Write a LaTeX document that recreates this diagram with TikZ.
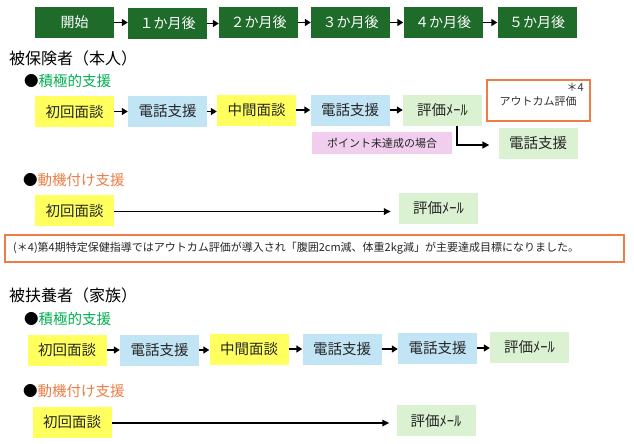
\documentclass[tikz,border=0pt]{standalone}
\usepackage{fontspec}
\setmainfont{Noto Sans CJK JP}
\usetikzlibrary{arrows.meta}
\definecolor{dkgreen}{HTML}{1E6B2A}
\definecolor{myyellow}{HTML}{FFFF5E}
\definecolor{myblue}{HTML}{C2E5F6}
\definecolor{mygreen}{HTML}{DAF1D2}
\definecolor{mypink}{HTML}{F1CDEE}
\definecolor{myorange}{HTML}{EE7D45}
\definecolor{kgreen}{HTML}{00B050}
\begin{document}
\begin{tikzpicture}[x=1pt,y=-1pt,
  cbox/.style={inner sep=0pt, minimum width=79pt, minimum height=31pt,
    font=\fontsize{14.5}{16}\selectfont, text=black!85},
  topbox/.style={cbox, fill=dkgreen, text=white, font=\fontsize{14}{16}\selectfont},
  ybox/.style={cbox, fill=myyellow},
  bbox/.style={cbox, fill=myblue},
  gbox/.style={cbox, fill=mygreen},
  arr/.style={-{Triangle[length=6pt,width=7pt]}, line width=1.8pt},
  longarr/.style={-{Triangle[length=7pt,width=6.5pt]}, line width=1.5pt},
  title/.style={anchor=west, inner sep=0pt, font=\fontsize{16}{18}\selectfont},
  subtitle/.style={anchor=west, inner sep=0pt, font=\fontsize{14.5}{16}\selectfont},
  notebox/.style={draw=myorange, line width=1.2pt, fill=white}
]
\useasboundingbox (0,0) rectangle (634,444);
\fill[white] (0,0) rectangle (634,444);

% top timeline
\node[topbox] (t0) at (74.5,22.5) {開始};
\node[topbox] (t1) at (167.5,23.5) {１か月後};
\node[topbox] (t2) at (258.5,22.5) {２か月後};
\node[topbox] (t3) at (350.5,22.5) {３か月後};
\node[topbox] (t4) at (443,22.5) {４か月後};
\node[topbox] (t5) at (537,22.5) {５か月後};
\foreach \a/\b in {t0/t1,t1/t2,t2/t3,t3/t4,t4/t5}
  \draw[arr] (\a.east) -- (\a.east -| \b.west);

% section 1
\node[title] (h1) at (9,58) {被保険者（本人）};
\node[subtitle] (s1) at (24,81) {●\textcolor{kgreen}{積極的支援}};

\node[ybox] (a1) at (74.5,111.5) {初回面談};
\node[bbox] (a2) at (167.5,111.5) {電話支援};
\node[ybox] (a3) at (256.5,110) {中間面談};
\node[bbox] (a4) at (350,110) {電話支援};
\node[gbox] (a5) at (442.5,110.5) {評価ﾒｰﾙ};
\foreach \a/\b in {a1/a2,a2/a3,a3/a4,a4/a5}
  \draw[arr] (\a.east) -- (\a.east -| \b.west);

\node[notebox, minimum width=103pt, minimum height=41pt, inner sep=0pt] (out) at (538.5,100.5) {};
\node[inner sep=0pt, font=\fontsize{11}{12}\selectfont, text=black!80] (outt) at (538,101) {アウトカム評価};
\node[inner sep=0pt, anchor=east, font=\fontsize{11}{12}\selectfont, text=black!80] (outn) at (584,87) {＊4};

\node[cbox, fill=mypink, minimum width=140pt, minimum height=22pt, font=\fontsize{11}{12}\selectfont] (pk) at (382,143) {ポイント未達成の場合};
\node[gbox] (g2) at (538,143.5) {電話支援};
\coordinate (br) at ([xshift=-25pt]a5.south east);
\draw[-{Triangle[length=7pt,width=7pt]}, line width=1.6pt] (br) |- ([xshift=-9pt,yshift=-1.5pt]g2.west);

\node[subtitle] (s2) at (23,180) {●\textcolor{myorange}{動機付け支援}};
\node[ybox] (b1) at (74.5,210.5) {初回面談};
\node[gbox] (b2) at (438.5,208.5) {評価ﾒｰﾙ};
\draw[longarr, shorten >=8pt] ([yshift=-1pt]b1.east) -- ([yshift=-1pt]b1.east -| b2.west);

% note
\node[notebox, minimum width=619pt, minimum height=27pt, inner sep=0pt] (nb) at (314.5,248.5) {};
\node[anchor=west, inner sep=0pt, font=\fontsize{11}{12}\selectfont, text=black!85] (nt) at (13,248.5) {(＊4)第4期特定保健指導ではアウトカム評価が導入され「腹囲2cm減、体重2kg減」が主要達成目標になりました。};

% section 2
\node[title] (h2) at (9,295) {被扶養者（家族）};
\node[subtitle] (s3) at (24,319) {●\textcolor{kgreen}{積極的支援}};

\node[ybox] (c1) at (67,350) {初回面談};
\node[bbox] (c2) at (159.5,350) {電話支援};
\node[ybox] (c3) at (249,349) {中間面談};
\node[bbox] (c4) at (342,349) {電話支援};
\node[bbox] (c5) at (437.5,348) {電話支援};
\node[gbox] (c6) at (529.5,347) {評価ﾒｰﾙ};
\foreach \a/\b in {c1/c2,c2/c3,c3/c4,c4/c5,c5/c6}
  \draw[arr] (\a.east) -- (\a.east -| \b.west);

\node[subtitle] (s4) at (23,391.5) {●\textcolor{myorange}{動機付け支援}};
\node[ybox] (d1) at (72,422) {初回面談};
\node[gbox] (d2) at (436,420.5) {評価ﾒｰﾙ};
\draw[longarr, shorten >=7pt] ([yshift=-1pt]d1.east) -- ([yshift=-1pt]d1.east -| d2.west);
\end{tikzpicture}
\end{document}
